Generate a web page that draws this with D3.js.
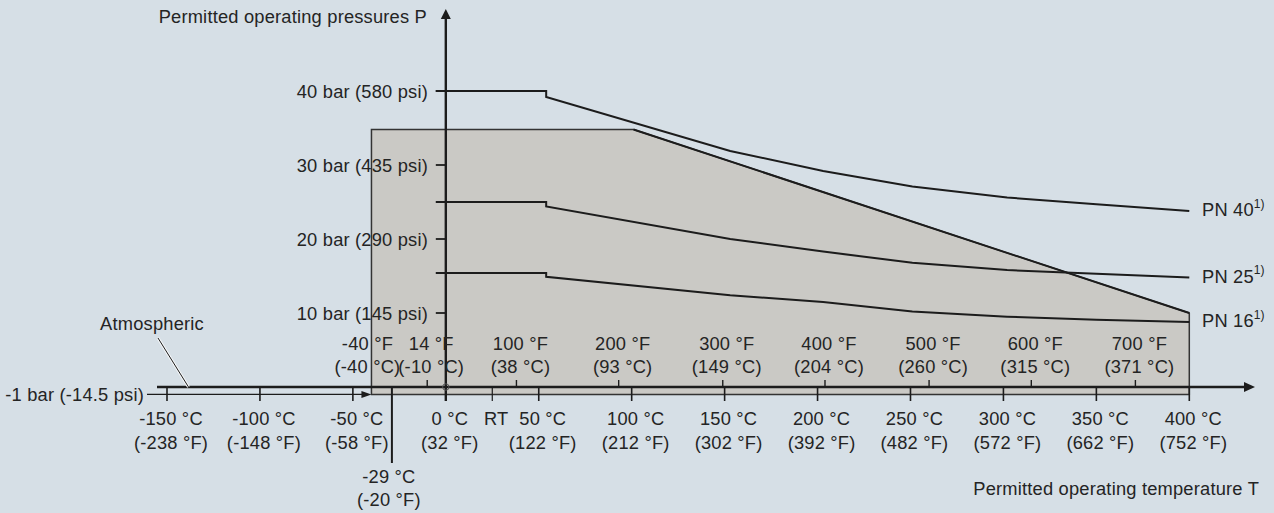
<!DOCTYPE html>
<html><head><meta charset="utf-8">
<script src="https://cdn.jsdelivr.net/npm/d3@7"></script>
<style>
html,body{margin:0;padding:0;background:#d6dfe6;}
svg{display:block;}
text{font-family:"Liberation Sans",Arial,Helvetica,sans-serif;font-size:18.3px;letter-spacing:0.2px;fill:#242424;}
</style>
</head><body>
<svg id="c" width="1274" height="513"></svg>
<script>
// ---------- data ----------
const pressureTicks = [10, 20, 30, 40];
const pressureTickLabels = ["10 bar (145 psi)", "20 bar (290 psi)", "30 bar (435 psi)", "40 bar (580 psi)"];
const vacuumPressure = -1;
const vacuumLabel = "-1 bar (-14.5 psi)";

const celsiusTicks = [-150, -100, -50, 0, 50, 100, 150, 200, 250, 300, 350, 400];
const celsiusTickLabels = [
  ["-150 °C", "(-238 °F)"], ["-100 °C", "(-148 °F)"], ["-50 °C", "(-58 °F)"],
  ["0 °C", "(32 °F)"], ["50 °C", "(122 °F)"], ["100 °C", "(212 °F)"],
  ["150 °C", "(302 °F)"], ["200 °C", "(392 °F)"], ["250 °C", "(482 °F)"],
  ["300 °C", "(572 °F)"], ["350 °C", "(662 °F)"], ["400 °C", "(752 °F)"]
];
const roomTemp = 25;
const roomTempLabel = "RT";

const fahrenheitTicks = [-10, 38, 93, 149, 204, 260, 315, 371];
const fahrenheitTickLabels = [
  ["14 °F", "(-10 °C)"], ["100 °F", "(38 °C)"], ["200 °F", "(93 °C)"],
  ["300 °F", "(149 °C)"], ["400 °F", "(204 °C)"], ["500 °F", "(260 °C)"],
  ["600 °F", "(315 °C)"], ["700 °F", "(371 °C)"]
];
const envelopeMinTemp = -40;
const envelopeMinLabel = ["-40 °F", "(-40 °C)"];
const minTemp = -29;
const minTempLabel = ["-29 °C", "(-20 °F)"];

// permitted envelope (shaded)
const envelopeT = [-40, -40, 101, 400, 400];
const envelopeP = [-1, 34.8, 34.8, 10, -1];

// PN curves
const seriesNames = ["PN 40", "PN 25", "PN 16"];
const curveT = [-5.4, 54, 54, 153, 203, 251, 302, 350, 400];
const pn40P = [40, 40, 39.2, 31.9, 29.2, 27.1, 25.6, 24.7, 23.8];
const pn25P = [25, 25, 24.4, 20.0, 18.3, 16.8, 15.8, 15.3, 14.8];
const pn16P = [15.4, 15.4, 14.9, 12.4, 11.5, 10.2, 9.5, 9.1, 8.8];

const yAxisTitle = "Permitted operating pressures P";
const xAxisTitle = "Permitted operating temperature T";
const atmosphericLabel = "Atmospheric";

// ---------- drawing ----------
const svg = d3.select("#c");
const x = d3.scaleLinear().domain([-150, 400]).range([167, 1189.3]);
const y = d3.scaleLinear().domain([0, 40]).range([387, 91]);
const ink = "#1c1c1c";

svg.append("rect").attr("width", 1274).attr("height", 513).attr("fill", "#d6dfe6");

// envelope
const env = envelopeT.map((t, i) => [x(t), y(envelopeP[i])]);
svg.append("path")
  .attr("d", d3.line()(env) + "Z")
  .attr("fill", "#cac9c5")
  .attr("stroke", "#333")
  .attr("stroke-width", 1.5);
// slanted edge heavier
svg.append("path")
  .attr("d", d3.line()(env.slice(2, 4)))
  .attr("fill", "none").attr("stroke", ink).attr("stroke-width", 2);

// vacuum line with arrow
svg.append("line")
  .attr("x1", 147).attr("x2", x(envelopeMinTemp) - 6)
  .attr("y1", y(vacuumPressure)).attr("y2", y(vacuumPressure))
  .attr("stroke", ink).attr("stroke-width", 1.3);
svg.append("path")
  .attr("d", `M${x(envelopeMinTemp)},${y(vacuumPressure)} l-10,-3.5 l0,7 Z`)
  .attr("fill", ink);

// main temperature axis
svg.append("line")
  .attr("x1", 157).attr("x2", 1246)
  .attr("y1", y(0)).attr("y2", y(0))
  .attr("stroke", ink).attr("stroke-width", 2.6);
svg.append("path")
  .attr("d", `M1255,${y(0)} l-11,-5 l0,10 Z`).attr("fill", ink);

// celsius ticks (below)
svg.selectAll(".ct").data(celsiusTicks).enter().append("line")
  .attr("x1", d => x(d)).attr("x2", d => x(d))
  .attr("y1", y(0)).attr("y2", 401)
  .attr("stroke", ink).attr("stroke-width", 1.6);
svg.append("line")
  .attr("x1", x(roomTemp)).attr("x2", x(roomTemp))
  .attr("y1", y(0)).attr("y2", 401)
  .attr("stroke", ink).attr("stroke-width", 1.2);

// fahrenheit ticks (above)
svg.selectAll(".ft").data(fahrenheitTicks).enter().append("line")
  .attr("x1", d => x(d)).attr("x2", d => x(d))
  .attr("y1", y(0) - 7).attr("y2", y(0))
  .attr("stroke", ink).attr("stroke-width", 1.4);

// min temp line
svg.append("line")
  .attr("x1", x(minTemp)).attr("x2", x(minTemp))
  .attr("y1", y(0)).attr("y2", 463)
  .attr("stroke", ink).attr("stroke-width", 2);

// y axis
svg.append("line")
  .attr("x1", x(0)).attr("x2", x(0))
  .attr("y1", 17).attr("y2", 401)
  .attr("stroke", ink).attr("stroke-width", 2.4);
svg.append("path")
  .attr("d", `M${x(0)},9 l-5,10 l10,0 Z`).attr("fill", ink);
svg.selectAll(".yt").data(pressureTicks).enter().append("line")
  .attr("x1", x(0) - 10).attr("x2", x(0))
  .attr("y1", d => y(d)).attr("y2", d => y(d))
  .attr("stroke", ink).attr("stroke-width", 1.8);

// origin marker
svg.append("circle").attr("cx", x(0)).attr("cy", y(0)).attr("r", 3.2)
  .attr("fill", "none").attr("stroke", "#555").attr("stroke-width", 1);

// PN curves
const allP = [pn40P, pn25P, pn16P];
const line = d3.line().x((d, i) => x(curveT[i])).y(d => y(d));
allP.forEach(p => {
  svg.append("path").attr("d", line(p))
    .attr("fill", "none").attr("stroke", ink).attr("stroke-width", 2);
});

// text helper
function txt(xp, yp, s, anchor) {
  return svg.append("text").attr("x", xp).attr("y", yp)
    .attr("text-anchor", anchor || "middle")
    .attr("dominant-baseline", "central").text(s);
}

// PN labels
allP.forEach((p, i) => {
  const t = svg.append("text").attr("x", 1202).attr("y", y(p[p.length - 1]) - 1)
    .attr("dominant-baseline", "central").text(seriesNames[i]);
  t.append("tspan").attr("dy", -6).style("font-size", "12px").style("letter-spacing", "0px").text("1)");
});

// y labels
pressureTicks.forEach((d, i) => txt(428, y(d), pressureTickLabels[i], "end"));
txt(144, y(vacuumPressure), vacuumLabel, "end");

// celsius labels
celsiusTicks.forEach((d, i) => {
  txt(x(d) + 4, 418.5, celsiusTickLabels[i][0]);
  txt(x(d) + 4, 442, celsiusTickLabels[i][1]);
});
txt(x(roomTemp) + 4, 418.5, roomTempLabel);

// fahrenheit labels
fahrenheitTicks.forEach((d, i) => {
  txt(x(d) + 4, 343.5, fahrenheitTickLabels[i][0]);
  txt(x(d) + 4, 366, fahrenheitTickLabels[i][1]);
});
txt(x(envelopeMinTemp) - 4, 343.5, envelopeMinLabel[0]);
txt(x(envelopeMinTemp) - 4, 366, envelopeMinLabel[1]);

txt(x(minTemp) - 3, 476.5, minTempLabel[0]);
txt(x(minTemp) - 3, 499, minTempLabel[1]);

// atmospheric leader
svg.append("line").attr("x1", 158).attr("y1", 338).attr("x2", 188.5).attr("y2", y(0))
  .attr("stroke", "#f4f6f8").attr("stroke-width", 3);
svg.append("line").attr("x1", 158).attr("y1", 338).attr("x2", 188.5).attr("y2", y(0))
  .attr("stroke", ink).attr("stroke-width", 1);
txt(152, 323, atmosphericLabel);

// axis titles
txt(427, 16.5, yAxisTitle, "end");
txt(1259, 488, xAxisTitle, "end");
</script>
</body></html>
